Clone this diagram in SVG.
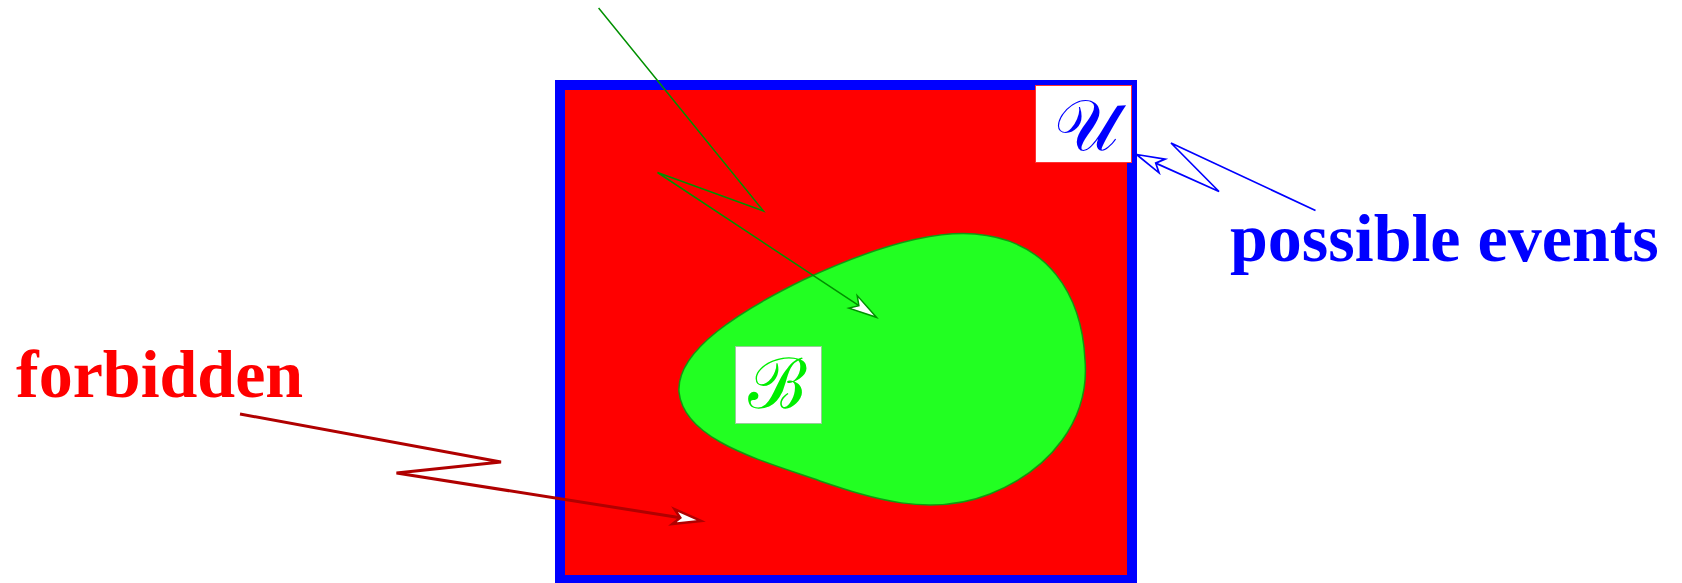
<svg xmlns="http://www.w3.org/2000/svg" width="1682" height="583" viewBox="0 0 1682 583">
<style>
.lbl{font-family:"Liberation Serif","Times New Roman",serif;font-weight:bold;font-size:68px}
.scr{font-family:"DejaVu Serif","Liberation Serif",serif}
.conn{fill:none;stroke-linejoin:miter}
</style>
<defs>
<marker id="ahG" markerUnits="userSpaceOnUse" markerWidth="60" markerHeight="60" refX="0" refY="0" orient="auto" overflow="visible">
<path d="M21,0 L-7,-7.5 L0,0 L-7,7.5 Z" fill="#fff" stroke="#009000" stroke-width="1.5"/>
</marker>
<marker id="ahR" markerUnits="userSpaceOnUse" markerWidth="60" markerHeight="60" refX="0" refY="0" orient="auto" overflow="visible">
<path d="M21,0 L-7,-7.5 L0,0 L-7,7.5 Z" fill="#fff" stroke="#b00000" stroke-width="2.5"/>
</marker>
<marker id="ahB" markerUnits="userSpaceOnUse" markerWidth="60" markerHeight="60" refX="0" refY="0" orient="auto" overflow="visible">
<path d="M21,0 L-7,-7.5 L0,0 L-7,7.5 Z" fill="#fff" stroke="#0000ff" stroke-width="1.7"/>
</marker>
</defs>
<rect width="1682" height="583" fill="#fff"/>
<g id="universe">
<rect x="560" y="85" width="572" height="495" fill="#ff0000" stroke="#0000ff" stroke-width="10"/>
</g>
<g id="blob">
<path d="M679,392 C676,350 742,310 803,280 C863,252 925,230 975,234 C1048,240 1082,295 1085,360 C1090,420 1050,470 990,494 C930,518 870,498 820,481 C760,460 684,440 679,392 Z" fill="#22ff22" stroke="#119911" stroke-width="1.5"/>
</g>
<g id="label-U">
<rect x="1035.5" y="85.5" width="96" height="77" fill="#fff" stroke="#ff3333" stroke-width="1"/>
<text class="scr" x="1086" y="150" font-size="72" fill="#0000ff" text-anchor="middle">𝒰</text>
</g>
<g id="label-B">
<rect x="735.5" y="346.5" width="86" height="77" fill="#fff" stroke="#99cc99" stroke-width="1"/>
<text class="scr" x="777" y="408" font-size="70" fill="#00ee00" text-anchor="middle">ℬ</text>
</g>
<g id="text-possible">
<text class="lbl" x="1230" y="261" fill="#0000ff">possible events</text>
</g>
<g id="text-forbidden">
<text class="lbl" x="16" y="397" fill="#ff0000">forbidden</text>
</g>
<g id="connectors">
<polyline class="conn" points="598.6,8 763.5,211 657.5,172.5 858.9,305.7" stroke="#009000" stroke-width="1.5" marker-end="url(#ahG)"/>
<polyline class="conn" points="240,414 501,462 396.5,473 680.3,517.7" stroke="#b00000" stroke-width="3" marker-end="url(#ahR)"/>
<polyline class="conn" points="1315.5,210.5 1171,143 1219,191.5 1155.7,163.1" stroke="#0000ff" stroke-width="1.7" marker-end="url(#ahB)"/>
</g>
</svg>
